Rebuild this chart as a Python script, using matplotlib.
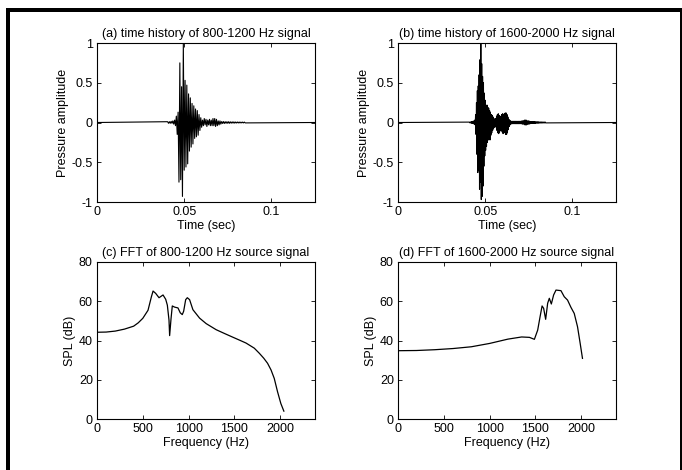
import numpy as np
import matplotlib
matplotlib.use("Agg")
import matplotlib.pyplot as plt
from matplotlib.patches import Rectangle

plt.rcParams['font.family'] = ['Liberation Sans', 'DejaVu Sans']
plt.rcParams['font.size'] = 9

# ---- (a) 800-1200 Hz time history: peak / trough of each cycle ----
a_start = 0.0405      # s, first cycle
a_cycle = 0.001       # s, one cycle per entry
a_pos = [0.01, 0.01, 0.015, 0.02, 0.03, 0.08, 0.13, 0.75, 0.45, 1.00,
         0.53, 0.47, 0.36, 0.31, 0.24, 0.21, 0.17, 0.15, 0.10, 0.06,
         0.03, 0.05, 0.04, 0.03, 0.04, 0.03, 0.05, 0.05, 0.04, 0.02,
         0.02, 0.012, 0.012, 0.01, 0.01, 0.01, 0.008, 0.008, 0.008, 0.006,
         0.006, 0.006, 0.005, 0.005, 0.005]
a_neg = [-0.01, -0.01, -0.01, -0.02, -0.04, -0.15, -0.75, -0.72, -0.93, -0.60,
         -0.56, -0.52, -0.36, -0.31, -0.27, -0.20, -0.18, -0.16, -0.10, -0.06,
         -0.04, -0.03, -0.05, -0.03, -0.04, -0.04, -0.04, -0.05, -0.04, -0.03,
         -0.02, -0.012, -0.012, -0.01, -0.01, -0.01, -0.008, -0.008, -0.008, -0.006,
         -0.006, -0.006, -0.005, -0.005, -0.005]

# ---- (b) 1600-2000 Hz time history ----
b_start = 0.0410
b_cycle = 0.0005
b_pos = [0.005, 0.005, 0.01, 0.01, 0.015, 0.02, 0.03, 0.10, 0.25, 0.40,
         0.46, 0.60, 0.79, 1.00, 0.74, 0.58, 0.50, 0.37, 0.28, 0.20,
         0.22, 0.19, 0.18, 0.15, 0.13, 0.10, 0.09, 0.07, 0.05, 0.04,
         0.05, 0.08, 0.10, 0.11, 0.09, 0.07, 0.08, 0.10, 0.11, 0.10,
         0.11, 0.12, 0.12, 0.10, 0.07, 0.04, 0.03, 0.02, 0.015, 0.015,
         0.015, 0.015, 0.015, 0.015, 0.015, 0.015, 0.015, 0.015, 0.015, 0.015,
         0.02, 0.02, 0.02, 0.03, 0.03, 0.03, 0.02, 0.02, 0.02, 0.015,
         0.01, 0.01, 0.01, 0.01, 0.01, 0.01, 0.008, 0.008, 0.008, 0.008,
         0.006, 0.006, 0.006, 0.006, 0.005, 0.005, 0.005, 0.005]
b_neg = [-0.005, -0.005, -0.01, -0.01, -0.015, -0.02, -0.03, -0.15, -0.40, -0.63,
         -0.60, -0.84, -0.75, -0.97, -0.93, -0.80, -0.55, -0.42, -0.35, -0.30,
         -0.25, -0.22, -0.20, -0.22, -0.16, -0.13, -0.10, -0.08, -0.06, -0.05,
         -0.06, -0.10, -0.13, -0.14, -0.12, -0.10, -0.10, -0.12, -0.14, -0.12,
         -0.13, -0.15, -0.15, -0.13, -0.09, -0.05, -0.03, -0.02, -0.015, -0.015,
         -0.015, -0.015, -0.015, -0.015, -0.015, -0.015, -0.015, -0.015, -0.015, -0.015,
         -0.02, -0.02, -0.02, -0.03, -0.03, -0.03, -0.02, -0.02, -0.02, -0.015,
         -0.01, -0.01, -0.01, -0.01, -0.01, -0.01, -0.008, -0.008, -0.008, -0.008,
         -0.006, -0.006, -0.006, -0.006, -0.005, -0.005, -0.005, -0.005]

t_end = 0.125

# ---- (c) FFT of 800-1200 Hz source ----
c_freq = [0, 100, 200, 300, 400, 450, 500, 557, 594, 612, 641, 677, 721, 750,
          768, 786, 793, 808, 822, 848, 884, 909, 931, 946, 968, 986, 1011,
          1047, 1120, 1192, 1301, 1400, 1482, 1560, 1627, 1717, 1772, 1820,
          1862, 1900, 1935, 1971, 2007, 2040]
c_spl = [44.2, 44.3, 44.8, 45.8, 47.3, 49.0, 51.3, 55.4, 62.3, 65.2, 64.0, 61.8,
         63.2, 61.0, 58.0, 50.4, 42.5, 51.0, 57.6, 57.0, 56.6, 54.1, 53.2, 54.9,
         60.8, 61.8, 60.8, 55.7, 51.4, 48.6, 45.5, 43.4, 41.7, 40.1, 38.7, 36.1,
         33.5, 31.0, 28.4, 25.0, 20.7, 13.9, 7.9, 4.0]

# ---- (d) FFT of 1600-2000 Hz source ----
d_freq = [0, 200, 400, 600, 800, 1000, 1200, 1350, 1435, 1489, 1525, 1551,
          1573, 1590, 1612, 1634, 1652, 1674, 1699, 1725, 1779, 1815, 1851,
          1888, 1924, 1960, 1989, 2014]
d_spl = [34.8, 34.9, 35.3, 35.9, 36.8, 38.5, 40.7, 41.8, 41.6, 40.6, 45.3, 52.1,
         57.6, 56.4, 50.8, 59.0, 61.5, 58.6, 63.2, 65.7, 65.4, 62.3, 60.6,
         56.9, 53.8, 47.0, 38.5, 30.9]


def burst(start, cycle, pos, neg):
    """zig-zag through the listed peaks and troughs, zero outside the burst"""
    t = [0.0]
    y = [0.0]
    for k in range(len(pos)):
        t += [start + k * cycle, start + k * cycle + cycle / 2]
        y += [pos[k], neg[k]]
    t.append(t_end)
    y.append(0.0)
    return t, y


def style(ax):
    # matlab-like boxed axes, ticks inside on all sides
    ax.tick_params(direction='in', top=True, right=True, length=3, width=0.6,
                   labelsize=9, pad=3)
    for s in ax.spines.values():
        s.set_linewidth(0.8)


fig = plt.figure(figsize=(6.82, 4.70), dpi=100)

w = 218 / 682
h = 159 / 470
ax_a = fig.add_axes([97 / 682, 1 - 202 / 470, w, h])
ax_b = fig.add_axes([398 / 682, 1 - 202 / 470, w, h])
ax_c = fig.add_axes([97 / 682, 1 - 419 / 470, w, 157 / 470])
ax_d = fig.add_axes([398 / 682, 1 - 419 / 470, w, 157 / 470])

ta, ya = burst(a_start, a_cycle, a_pos, a_neg)
tb, yb = burst(b_start, b_cycle, b_pos, b_neg)

for ax, (t, y), lab in [(ax_a, (ta, ya), '(a) time history of 800-1200 Hz signal'),
                        (ax_b, (tb, yb), '(b) time history of 1600-2000 Hz signal')]:
    ax.plot(t, y, color='black', linewidth=0.8)
    ax.set_xlim(0, t_end)
    ax.set_ylim(-1, 1)
    ax.set_xticks([0, 0.05, 0.1])
    ax.set_xticklabels(['0', '0.05', '0.1'])
    ax.set_yticks([-1, -0.5, 0, 0.5, 1])
    ax.set_yticklabels(['-1', '-0.5', '0', '0.5', '1'])
    ax.set_xlabel('Time (sec)', labelpad=1)
    ax.set_ylabel('Pressure amplitude', labelpad=2)
    ax.set_title(lab, fontsize=9, pad=4)
    style(ax)

for ax, f, s, lab in [(ax_c, c_freq, c_spl, '(c) FFT of 800-1200 Hz source signal'),
                      (ax_d, d_freq, d_spl, '(d) FFT of 1600-2000 Hz source signal')]:
    ax.plot(f, s, color='black', linewidth=0.9)
    ax.set_xlim(0, 2380)
    ax.set_ylim(0, 80)
    ax.set_xticks([0, 500, 1000, 1500, 2000])
    ax.set_yticks([0, 20, 40, 60, 80])
    ax.set_xlabel('Frequency (Hz)', labelpad=1)
    ax.set_ylabel('SPL (dB)', labelpad=2)
    ax.set_title(lab, fontsize=9, pad=4)
    style(ax)

# thick frame round the figure (top and left), thin on the right
fig.add_artist(Rectangle((6 / 682, 1 - 12 / 470), 676 / 682, 4 / 470,
                         transform=fig.transFigure, color='black', lw=0))
fig.add_artist(Rectangle((6 / 682, 0), 4 / 682, 462 / 470,
                         transform=fig.transFigure, color='black', lw=0))
fig.add_artist(Rectangle((680 / 682, 0), 1.5 / 682, 462 / 470,
                         transform=fig.transFigure, color='black', lw=0))

fig.savefig('out.png', dpi=100)
